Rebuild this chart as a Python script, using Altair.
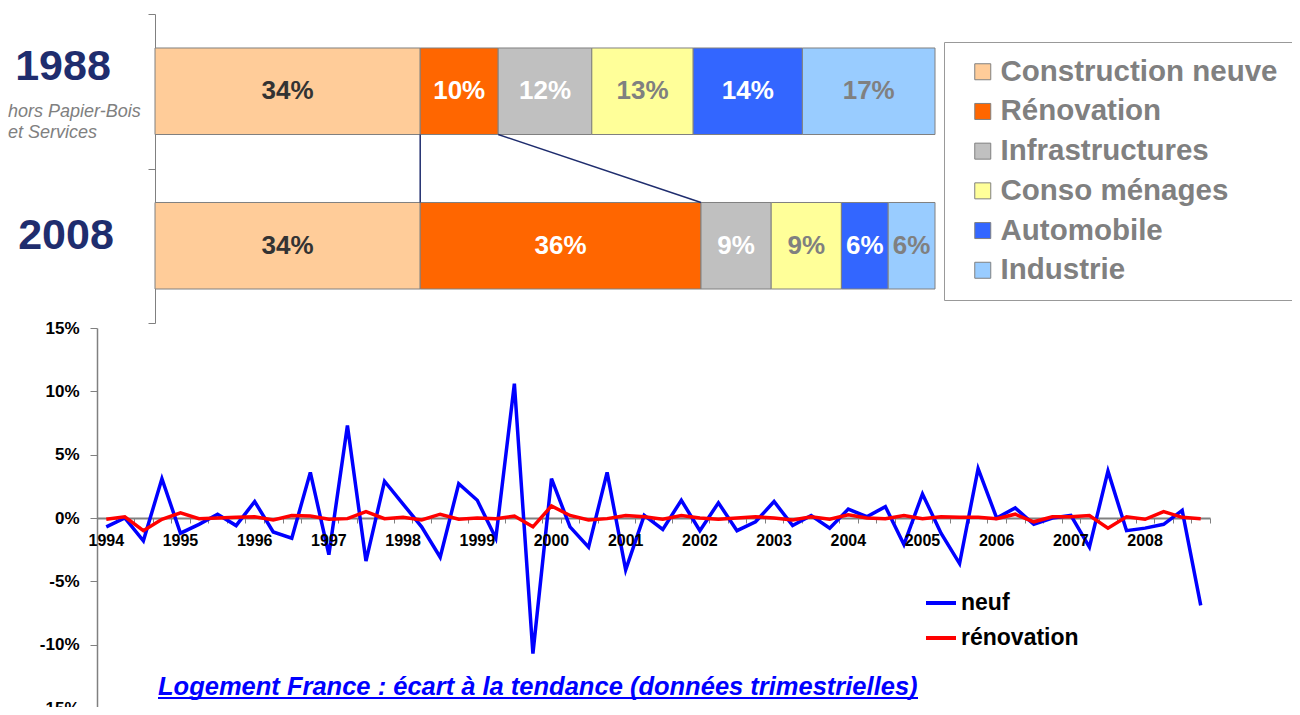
import altair as alt
import pandas as pd

FONT = "Liberation Sans"

# ---------------- data ----------------
categories = ["Construction neuve", "Rénovation", "Infrastructures",
              "Conso ménages", "Automobile", "Industrie"]
bar_years = ["1988", "2008"]
share_1988 = [34, 10, 12, 13, 14, 17]
share_2008 = [34, 36, 9, 9, 6, 6]
subtitle_1988 = ["hors Papier-Bois", "et Services"]

years = list(range(1994, 2009))
series_names = ["neuf", "rénovation"]
neuf = [-0.7, 0.0, -1.8, 3.1, -1.2, -0.5, 0.3, -0.6, 1.3, -1.1,
        -1.6, 3.6, -2.9, 7.3, -3.4, 2.9, 1.1, -0.7, -3.1, 2.7,
        1.4, -1.6, 10.6, -10.7, 3.1, -0.7, -2.3, 3.6, -4.1, 0.2,
        -0.9, 1.4, -1.0, 1.2, -1.0, -0.3, 1.3, -0.6, 0.2, -0.8,
        0.7, 0.1, 0.9, -2.1, 1.9, -1.2, -3.6, 3.9, 0.0, 0.8,
        -0.5, 0.0, 0.2, -2.3, 3.7, -1.0, -0.8, -0.5, 0.6, -6.9]
renovation = [-0.1, 0.1, -1.0, -0.1, 0.4, -0.05, 0.0, 0.05, 0.1, -0.15,
              0.2, 0.15, -0.1, -0.05, 0.5, -0.05, 0.05, -0.15, 0.3, -0.1,
              0.0, -0.05, 0.15, -0.7, 0.95, 0.2, -0.15, -0.05, 0.2, 0.1,
              -0.1, 0.2, 0.0, -0.1, 0.0, 0.1, 0.0, -0.15, 0.1, -0.1,
              0.25, 0.0, -0.05, 0.2, -0.05, 0.1, 0.05, 0.05, -0.05, 0.3,
              -0.3, 0.1, 0.1, 0.2, -0.8, 0.1, -0.1, 0.5, 0.05, -0.05]
y_ticks = [-15, -10, -5, 0, 5, 10, 15]
caption = "Logement France : écart à la tendance (données trimestrielles)"

# ---------------- styles ----------------
bar_colors = ["#FFCC99", "#FF6600", "#C0C0C0", "#FFFF99", "#3366FF", "#99CCFF"]
label_colors = ["#333333", "#FFFFFF", "#FFFFFF", "#808080", "#FFFFFF", "#808080"]
series_colors = ["#0000FF", "#FF0000"]
NAVY = "#1F2D6E"
GRAY = "#808080"
BAR_BAND = 0.56

W, H = 1284, 699

# ---------------- tables ----------------
rows = []
cums = {}
for yr, shares in zip(bar_years, [share_1988, share_2008]):
    start = 0
    cum = []
    for cat, s in zip(categories, shares):
        rows.append({"year": yr, "cat": cat, "start": start, "end": start + s,
                     "mid": start + s / 2, "label": f"{s}%"})
        start += s
        cum.append(start)
    cums[yr] = cum
bars_df = pd.DataFrame(rows)

conn_df = pd.DataFrame({
    "from_year": [bar_years[0]] * 2,
    "to_year": [bar_years[1]] * 2,
    "x_from": [cums[bar_years[0]][0], cums[bar_years[0]][1]],
    "x_to": [cums[bar_years[1]][0], cums[bar_years[1]][1]],
})

n_q = len(neuf)
line_df = pd.DataFrame({
    "q": list(range(n_q)) * 2,
    "value": neuf + renovation,
    "series": [series_names[0]] * n_q + [series_names[1]] * n_q,
})
yl_df = pd.DataFrame({"q": [(y - years[0]) * 4 for y in years],
                      "lab": [str(y) for y in years],
                      "zero": [0] * len(years)})
tick_vals = [k - 0.5 for k in range(n_q + 1)]


# ---------------- scales ----------------
def xbar():
    return alt.Scale(domain=[0, 100], range=[147, 927], nice=False, zero=False)


def ybar():
    return alt.Scale(domain=bar_years, range=[6, 315], paddingInner=0, paddingOuter=0)


def xline():
    return alt.Scale(domain=[-0.5, n_q - 0.5], range=[89, 1202], nice=False, zero=False)


def yline():
    return alt.Scale(domain=[-15, 15], range=[700, 320], nice=False, zero=False)


# ---------------- top chart ----------------
bars = alt.Chart(bars_df).mark_bar(stroke=GRAY, strokeWidth=1,
                                   height={"band": BAR_BAND}).encode(
    x=alt.X("start:Q", scale=xbar(), axis=None),
    x2=alt.X2("end"),
    y=alt.Y("year:N", scale=ybar(), sort=bar_years,
            axis=alt.Axis(orient="left", offset=-147, labels=False, title=None,
                          tickBand="extent", tickSize=7, tickColor=GRAY,
                          domainColor=GRAY, grid=False)),
    color=alt.Color("cat:N", scale=alt.Scale(domain=categories, range=bar_colors),
                    legend=alt.Legend(orient="none", legendX=936, legendY=34, title=None,
                                      strokeColor="#999999", fillColor="white",
                                      padding=15, symbolType="square", symbolSize=256,
                                      symbolOffset=9, symbolStrokeColor=GRAY,
                                      symbolStrokeWidth=1, labelFont=FONT,
                                      labelFontSize=29.5, labelFontWeight="bold",
                                      labelColor=GRAY, labelOffset=3, rowPadding=8.7,
                                      labelLimit=500)),
)

bar_labels = alt.Chart(bars_df).mark_text(font=FONT, fontSize=26, fontWeight="bold",
                                          baseline="middle", align="center").encode(
    x=alt.X("mid:Q", scale=xbar(), axis=None),
    y=alt.Y("year:N", scale=ybar(), axis=None),
    text="label:N",
    color=alt.Color("cat:N", scale=alt.Scale(domain=categories, range=label_colors),
                    legend=None),
)

connectors = alt.Chart(conn_df).mark_rule(color=NAVY, strokeWidth=1.5).encode(
    x=alt.X("x_from:Q", scale=xbar(), axis=None),
    x2=alt.X2("x_to"),
    y=alt.Y("from_year:N", scale=ybar(), bandPosition=0.5 + BAR_BAND / 2, axis=None),
    y2=alt.Y2("to_year", bandPosition=0.5 - BAR_BAND / 2),
)

big88 = alt.Chart(pd.DataFrame({"year": [bar_years[0]]})).mark_text(
    font=FONT, fontSize=43, fontWeight="bold", color=NAVY, align="center",
    baseline="middle", dy=-24).encode(
    x=alt.value(55),
    y=alt.Y("year:N", scale=ybar(), axis=None),
    text="year:N",
)

big08 = alt.Chart(pd.DataFrame({"year": [bar_years[1]]})).mark_text(
    font=FONT, fontSize=43, fontWeight="bold", color=NAVY, align="center",
    baseline="middle", dy=-10).encode(
    x=alt.value(58),
    y=alt.Y("year:N", scale=ybar(), axis=None),
    text="year:N",
)

subtitle = alt.Chart(pd.DataFrame({"year": [bar_years[0]]})).mark_text(
    font=FONT, fontSize=18, fontStyle="italic", color=GRAY, align="left",
    baseline="top", lineHeight=21, dy=12).encode(
    x=alt.value(0),
    y=alt.Y("year:N", scale=ybar(), axis=None),
    text=alt.value(subtitle_1988),
)

# ---------------- line chart ----------------
lines = alt.Chart(line_df).mark_line(strokeWidth=3.5).encode(
    x=alt.X("q:Q", scale=xline(),
            axis=alt.Axis(orient="bottom", offset=-189, values=tick_vals, labels=False,
                          title=None, tickSize=5, tickColor=GRAY, domainColor=GRAY,
                          domainWidth=2, grid=False)),
    y=alt.Y("value:Q", scale=yline(),
            axis=alt.Axis(orient="left", offset=-89, values=y_ticks,
                          labelExpr="datum.value + '%'", title=None, tickSize=7,
                          tickColor=GRAY, domainColor=GRAY, domainWidth=1.5,
                          labelFont=FONT, labelFontSize=17, labelFontWeight="bold",
                          labelColor="black", labelPadding=11, grid=False)),
    color=alt.Color("series:N", scale=alt.Scale(domain=series_names, range=series_colors),
                    legend=alt.Legend(orient="none", legendX=916, legendY=578, title=None,
                                      symbolType="stroke", symbolSize=900,
                                      symbolStrokeWidth=4, labelFont=FONT,
                                      labelFontSize=23, labelFontWeight="bold",
                                      labelColor="black", labelOffset=3, rowPadding=6,
                                      padding=0)),
    detail="series:N",
)

year_labels = alt.Chart(yl_df).mark_text(font=FONT, fontSize=16, fontWeight="bold",
                                         color="black", baseline="middle", dy=23).encode(
    x=alt.X("q:Q", scale=xline(), axis=None),
    y=alt.Y("zero:Q", scale=yline(), axis=None),
    text="lab:N",
)

cap = alt.Chart(pd.DataFrame({"t": [caption]})).mark_text(
    font=FONT, fontSize=25.5, fontWeight="bold", fontStyle="italic", color="#0000FF",
    align="left", baseline="alphabetic").encode(
    x=alt.value(150), y=alt.value(687), text="t:N")

underline = alt.Chart(pd.DataFrame({"t": [caption]})).mark_rule(
    color="#0000FF", strokeWidth=2).encode(
    x=alt.value(150), x2=alt.value(910), y=alt.value(690))

chart = alt.layer(
    bars, bar_labels, connectors, big88, big08, subtitle,
    lines, year_labels, cap, underline,
).resolve_scale(
    x="independent", y="independent", color="independent"
).properties(
    width=W, height=H, padding=0,
    autosize=alt.AutoSizeParams(type="none"),
    background="white",
).configure(font=FONT).configure_view(stroke=None)

chart.save("out.html", embed_options={"renderer": "svg", "actions": False})
